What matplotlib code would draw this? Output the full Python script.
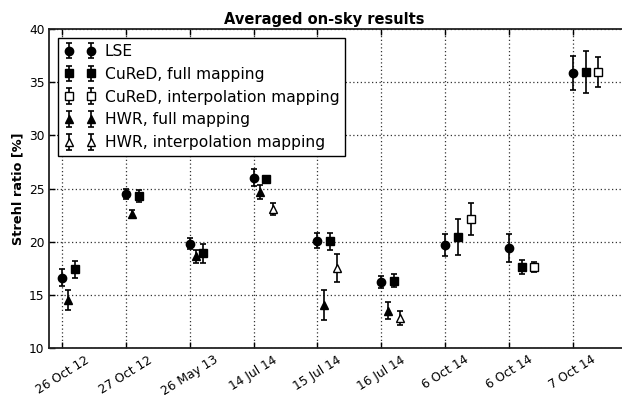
import numpy as np
import matplotlib
matplotlib.use("Agg")
import matplotlib.pyplot as plt

nan = np.nan

dates = ["26 Oct 12", "27 Oct 12", "26 May 13", "14 Jul 14", "15 Jul 14",
         "16 Jul 14", "6 Oct 14", "6 Oct 14", "7 Oct 14"]

lse = [16.6, 24.5, 19.8, 26.0, 20.1, 16.2, 19.7, 19.4, 35.9]
lse_err = [0.8, 0.5, 0.5, 0.8, 0.7, 0.6, 1.05, 1.3, 1.6]

hwr_full = [14.5, 22.6, 18.6, 24.7, 14.0, 13.5, nan, nan, nan]
hwr_full_err = [0.9, 0.4, 0.65, 0.65, 1.4, 0.8, nan, nan, nan]

cured_full = [17.4, 24.3, 18.9, 25.9, 20.05, 16.3, 20.4, 17.6, 36.0]
cured_full_err = [0.8, 0.6, 0.9, 0.2, 0.8, 0.6, 1.7, 0.7, 2.0]

hwr_interp = [nan, nan, nan, 23.1, 17.5, 12.8, nan, nan, nan]
hwr_interp_err = [nan, nan, nan, 0.55, 1.3, 0.7, nan, nan, nan]

cured_interp = [nan, nan, nan, nan, nan, nan, 22.1, 17.6, 36.0]
cured_interp_err = [nan, nan, nan, nan, nan, nan, 1.5, 0.5, 1.4]

x = np.arange(len(dates))

fig = plt.figure(figsize=(6.22, 3.95), dpi=100)
ax = fig.add_axes([0.0793, 0.1197, 0.9236, 0.8061])

common = dict(linestyle="none", color="black", ecolor="black", elinewidth=1.2,
              capsize=2.5, capthick=1.2, markersize=6, mec="black")

h_lse = ax.errorbar(x, lse, yerr=lse_err, marker="o", mfc="black", **common)
h_hf = ax.errorbar(x + 0.1, hwr_full, yerr=hwr_full_err, marker="^", mfc="black", **common)
h_cf = ax.errorbar(x + 0.2, cured_full, yerr=cured_full_err, marker="s", mfc="black", **common)
h_hi = ax.errorbar(x + 0.3, hwr_interp, yerr=hwr_interp_err, marker="^", mfc="white", **common)
h_ci = ax.errorbar(x + 0.4, cured_interp, yerr=cured_interp_err, marker="s", mfc="white", **common)

ax.set_xlim(-0.2, 8.8)
ax.set_ylim(10, 40)
ax.set_xticks(x)
ax.set_xticklabels(dates, rotation=32, ha="center", fontsize=8.8)
ax.set_yticks([10, 15, 20, 25, 30, 35, 40])
ax.tick_params(axis="y", labelsize=8.8)
ax.tick_params(direction="in", top=True, right=False, length=4, width=1)
ax.tick_params(axis="x", pad=4)
ax.grid(True, linestyle=(0, (1, 2)), color="#333333", linewidth=0.9)
for s in ax.spines.values():
    s.set_linewidth(1.3)
    s.set_color("#222222")
ax.spines["right"].set_visible(False)

ax.set_title("Averaged on-sky results", fontweight="bold", fontsize=10.5, pad=4, x=0.478)
ax.set_ylabel("Strehl ratio [%]", fontweight="bold", fontsize=9.3, labelpad=3)

leg = ax.legend([h_lse, h_cf, h_ci, h_hf, h_hi],
                ["LSE", "CuReD, full mapping", "CuReD, interpolation mapping",
                 "HWR, full mapping", "HWR, interpolation mapping"],
                loc="upper left", numpoints=2, fontsize=11.2, fancybox=False,
                framealpha=1, edgecolor="black", labelspacing=0.5,
                handletextpad=0.6, borderaxespad=0.55)
leg.get_frame().set_linewidth(1.0)

fig.savefig("out.png", dpi=100)
